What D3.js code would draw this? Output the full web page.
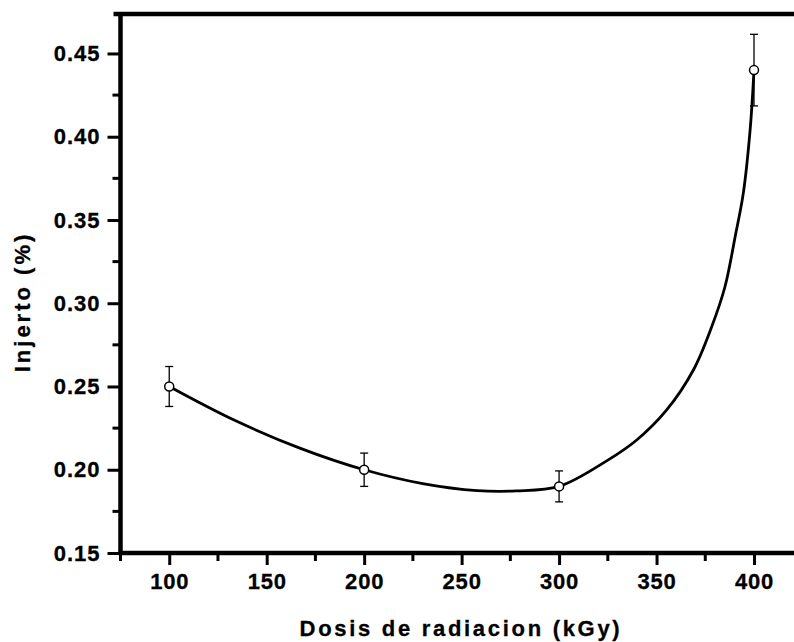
<!DOCTYPE html>
<html>
<head>
<meta charset="utf-8">
<script src="https://cdn.jsdelivr.net/npm/d3@7"></script>
<style>
  html, body { margin: 0; padding: 0; background: #fff; }
  svg { display: block; }
  text { font-family: "Liberation Sans", Arial, sans-serif; font-weight: bold; fill: #000; stroke: #000; stroke-width: 0.3px; }
</style>
</head>
<body>
<script>
// ---- data ----
const doses = [100, 200, 300, 400];
const injerto = [0.25, 0.20, 0.19, 0.44];
const errors = [0.012, 0.010, 0.0093, 0.0215];

// smooth fitted curve
const fitX = [100, 133, 167, 200, 230, 258, 278, 300, 324, 340, 355.2, 368.9, 378.3, 385.1, 390.5, 394.5, 398, 400];
const fitY = [0.250, 0.230, 0.213, 0.200, 0.1917, 0.1875, 0.1873, 0.190, 0.205, 0.218, 0.2359, 0.2599, 0.2859, 0.3099, 0.341, 0.3660, 0.4040, 0.44];

const xTicks = [100, 150, 200, 250, 300, 350, 400];
const xMinor = [75, 125, 175, 225, 275, 325, 375, 425];
const yTicks = [0.15, 0.20, 0.25, 0.30, 0.35, 0.40, 0.45];
const yMinor = [0.175, 0.225, 0.275, 0.325, 0.375, 0.425];

const xTitle = "Dosis de radiacion (kGy)";
const yTitle = "Injerto (%)";

// ---- layout ----
const W = 794, H = 642;
const x = d3.scaleLinear().domain([75, 400]).range([120.5, 754]);
const y = d3.scaleLinear().domain([0.15, 0.4737]).range([553, 14]);

const svg = d3.select("body").append("svg").attr("width", W).attr("height", H);

// axes
const xAxis = d3.axisBottom(x).tickValues(xTicks).tickSize(12).tickPadding(8)
  .tickFormat(d3.format("d"));
const gx = svg.append("g").attr("transform", `translate(0,${y(0.15)})`).call(xAxis);
gx.select(".domain").remove();
gx.selectAll(".tick line").attr("stroke", "#000").attr("stroke-width", 3);
gx.selectAll(".tick text").style("font-size", "22px").style("letter-spacing", "0.8px");

svg.append("g").attr("transform", `translate(0,${y(0.15)})`)
  .selectAll("line").data(xMinor).join("line")
  .attr("x1", d => x(d)).attr("x2", d => x(d)).attr("y1", 0).attr("y2", 8)
  .attr("stroke", "#000").attr("stroke-width", 3);

const yAxis = d3.axisLeft(y).tickValues(yTicks).tickSize(13).tickPadding(7)
  .tickFormat(d3.format(".2f"));
const gy = svg.append("g").attr("transform", `translate(${x(75)},0)`).call(yAxis);
gy.select(".domain").remove();
gy.selectAll(".tick line").attr("stroke", "#000").attr("stroke-width", 3);
gy.selectAll(".tick text").style("font-size", "22px").style("letter-spacing", "1px");

svg.append("g").attr("transform", `translate(${x(75)},0)`)
  .selectAll("line").data(yMinor).join("line")
  .attr("x1", -8).attr("x2", 0).attr("y1", d => y(d)).attr("y2", d => y(d))
  .attr("stroke", "#000").attr("stroke-width", 3);

// frame lines
const [y0, y1] = y.range();
svg.append("line").attr("x1", x(75)).attr("x2", x(75)).attr("y1", y1 - 2).attr("y2", y0 + 2)
  .attr("stroke", "#000").attr("stroke-width", 4.5);
svg.append("line").attr("x1", x(75) - 2).attr("x2", W).attr("y1", y0).attr("y2", y0)
  .attr("stroke", "#000").attr("stroke-width", 4.5);
svg.append("line").attr("x1", x(75) - 7).attr("x2", W).attr("y1", y1).attr("y2", y1)
  .attr("stroke", "#000").attr("stroke-width", 4.5);

// fitted curve
const fitData = fitX.map((d, i) => [d, fitY[i]]);
svg.append("path").datum(fitData)
  .attr("d", d3.line().x(d => x(d[0])).y(d => y(d[1])).curve(d3.curveCatmullRom.alpha(0.5)))
  .attr("fill", "none").attr("stroke", "#000").attr("stroke-width", 2.8);

// error bars
const pts = doses.map((d, i) => ({ x: d, y: injerto[i], e: errors[i] }));
const eb = svg.append("g").selectAll("g").data(pts).join("g");
eb.append("line").attr("x1", d => x(d.x)).attr("x2", d => x(d.x))
  .attr("y1", d => y(d.y + d.e)).attr("y2", d => y(d.y - d.e))
  .attr("stroke", "#000").attr("stroke-width", 1.3);
eb.append("line").attr("x1", d => x(d.x) - 4).attr("x2", d => x(d.x) + 4)
  .attr("y1", d => y(d.y + d.e)).attr("y2", d => y(d.y + d.e))
  .attr("stroke", "#000").attr("stroke-width", 1.3);
eb.append("line").attr("x1", d => x(d.x) - 4).attr("x2", d => x(d.x) + 4)
  .attr("y1", d => y(d.y - d.e)).attr("y2", d => y(d.y - d.e))
  .attr("stroke", "#000").attr("stroke-width", 1.3);

// markers
svg.append("g").selectAll("circle").data(pts).join("circle")
  .attr("cx", d => x(d.x)).attr("cy", d => y(d.y)).attr("r", 4.5)
  .attr("fill", "#fff").attr("stroke", "#000").attr("stroke-width", 1.5);

// titles
svg.append("text").attr("x", 461).attr("y", 636).attr("text-anchor", "middle")
  .style("font-size", "22px").style("letter-spacing", "2.7px").text(xTitle);
svg.append("text").attr("transform", "translate(30,302) rotate(-90)").attr("text-anchor", "middle")
  .style("font-size", "22px").style("letter-spacing", "3px").text(yTitle);
</script>
</body>
</html>
